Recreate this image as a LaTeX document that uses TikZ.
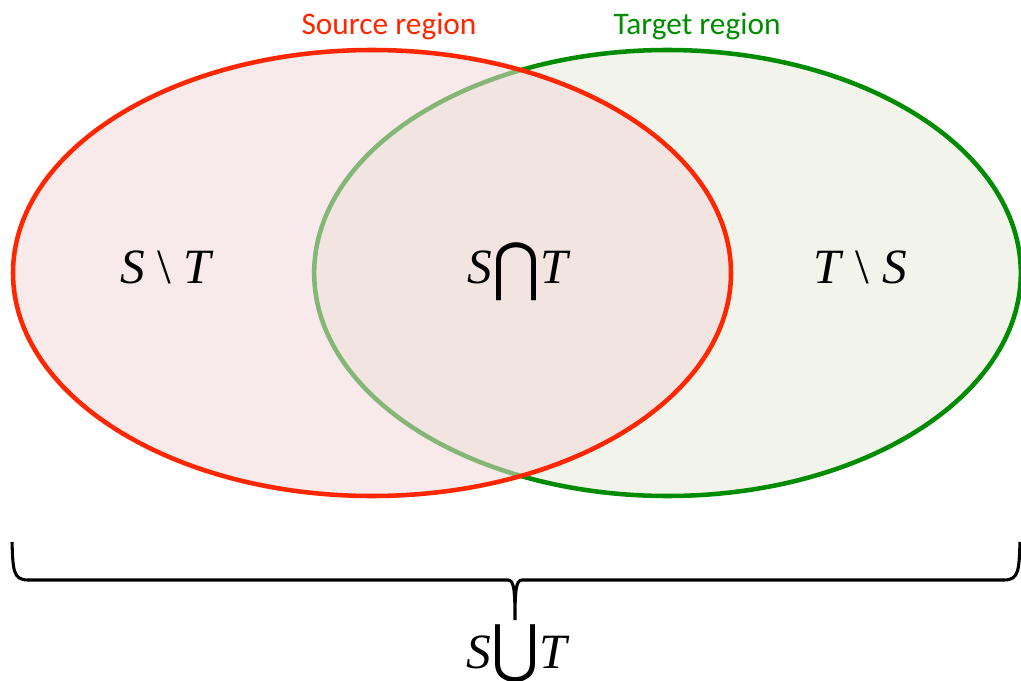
\documentclass[tikz,border=0pt]{standalone}
\usepackage{graphicx}
\usepackage{fontspec}
\setmainfont{Liberation Serif}
\newfontfamily\labelfont{Carlito}
\newfontfamily\opfont{DejaVu Sans}
\usetikzlibrary{positioning,shapes.geometric}
\definecolor{srcred}{RGB}{255,38,0}
\definecolor{tgtgreen}{RGB}{0,140,0}
\definecolor{srcfill}{RGB}{242,217,217}
\definecolor{tgtfill}{RGB}{242,244,236}
\newcommand{\bigsetop}[2]{\raisebox{#2}{\resizebox{36pt}{43.5pt}{\raisebox{\depth}{\opfont\upshape #1}}}}

\begin{document}
\begin{tikzpicture}[x=0.75pt,y=-0.75pt,
  region/.style={ellipse,line width=3.4pt,inner sep=0pt,outer sep=0pt,minimum height=334.5pt},
  regionlabel/.style={font=\labelfont\fontsize{23.5}{28}\selectfont},
  setlabel/.style={font=\fontsize{37}{44}\selectfont\itshape,inner sep=0pt,anchor=base}]
\useasboundingbox (0,0) rectangle (1021,681);
\node[region,draw=tgtgreen,fill=tgtfill,minimum width=530pt] (target) at (667.5,273) {};
\node[region,draw=srcred,fill=srcfill,fill opacity=0.55,minimum width=538.5pt] (source) at (372,273) {};
\node[regionlabel,text=srcred] (srclabel) at (389,26) {Source region};
\node[regionlabel,text=tgtgreen] (tgtlabel) at (697,26) {Target region};
\node[setlabel] (sminust) at (166,283) {S \textup{\textbackslash} T};
\node[setlabel] (tminuss) at (860,283) {T \textup{\textbackslash} S};
\node[setlabel] (scapt) at (518,283) {S\bigsetop{⋂}{-13pt}T};
\node[setlabel] (scupt) at (517,668) {S\bigsetop{⋃}{-11pt}T};
\coordinate (braceleft) at (12,542);
\coordinate (braceright) at (1020,542);
\coordinate (bracetip) at (515,620);
\draw[line width=2.3pt] (braceleft) .. controls (13,570) and (13,580) .. (28,580) -- (508,580)
  .. controls (514,580) and (515,590) .. (bracetip)
  .. controls (515,590) and (516,580) .. (522,580) -- (1004,580)
  .. controls (1019,580) and (1019,570) .. (braceright);
\end{tikzpicture}
\end{document}
